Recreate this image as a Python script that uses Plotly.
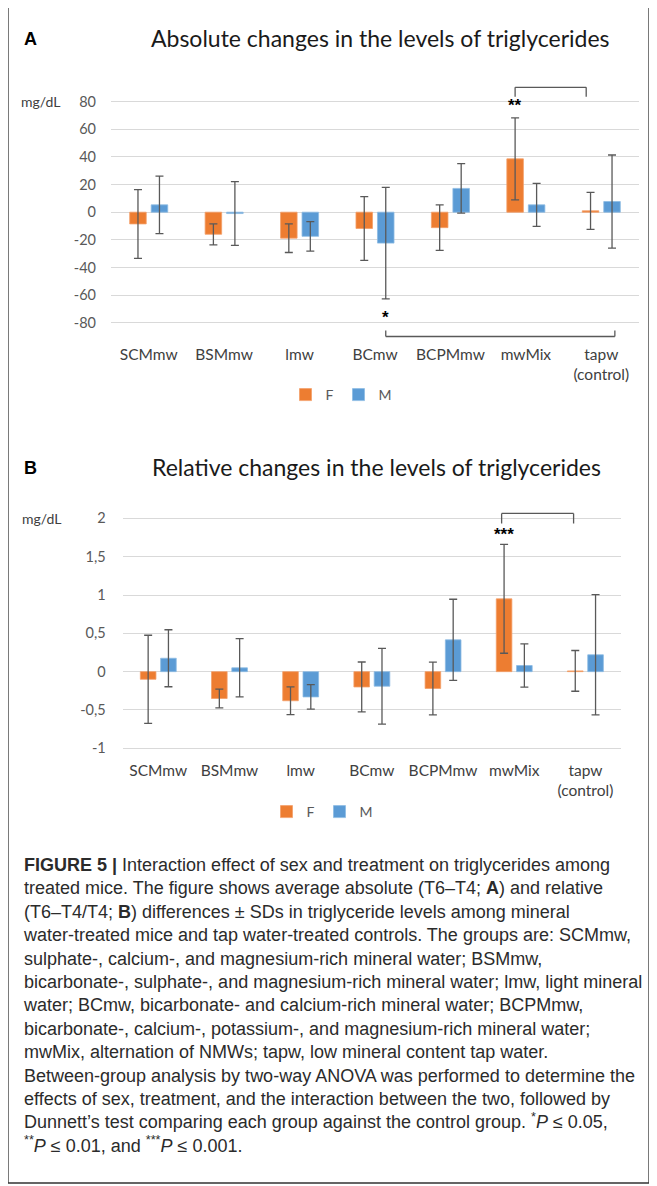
import plotly.graph_objects as go

# ---------------- data ----------------
categories = ["SCMmw", "BSMmw", "lmw", "BCmw", "BCPMmw", "mwMix", "tapw<br>(control)"]
series_names = ["F", "M"]

abs_f = [-8.5, -16.0, -18.8, -11.8, -11.2, 38.6, 1.0]
abs_f_sd = [24.9, 7.6, 10.4, 23.1, 16.5, 29.7, 13.4]
abs_m = [5.3, -1.0, -17.5, -22.4, 17.2, 5.3, 7.7]
abs_m_sd = [20.8, 23.1, 10.7, 40.4, 17.9, 15.6, 33.7]

rel_f = [-0.10, -0.35, -0.38, -0.20, -0.22, 0.95, 0.01]
rel_f_sd = [0.575, 0.122, 0.18, 0.326, 0.343, 0.71, 0.266]
rel_m = [0.175, 0.05, -0.33, -0.19, 0.415, 0.08, 0.22]
rel_m_sd = [0.372, 0.38, 0.16, 0.494, 0.53, 0.283, 0.785]

abs_tickvals = [-80, -60, -40, -20, 0, 20, 40, 60, 80]
abs_ticktext = ["-80", "-60", "-40", "-20", "0", "20", "40", "60", "80"]
rel_tickvals = [-1, -0.5, 0, 0.5, 1, 1.5, 2]
rel_ticktext = ["-1", "-0,5", "0", "0,5", "1", "1,5", "2"]

title_a = "Absolute changes in the levels of triglycerides"
title_b = "Relative changes in the levels of triglycerides"
unit_label = "mg/dL"

caption_lines = [
    "<b>FIGURE 5 |</b> Interaction effect of sex and treatment on triglycerides among",
    "treated mice. The figure shows average absolute (T6–T4; <b>A</b>) and relative",
    "(T6–T4/T4; <b>B</b>) differences ± SDs in triglyceride levels among mineral",
    "water-treated mice and tap water-treated controls. The groups are: SCMmw,",
    "sulphate-, calcium-, and magnesium-rich mineral water; BSMmw,",
    "bicarbonate-, sulphate-, and magnesium-rich mineral water; lmw, light mineral",
    "water; BCmw, bicarbonate- and calcium-rich mineral water; BCPMmw,",
    "bicarbonate-, calcium-, potassium-, and magnesium-rich mineral water;",
    "mwMix, alternation of NMWs; tapw, low mineral content tap water.",
    "Between-group analysis by two-way ANOVA was performed to determine the",
    "effects of sex, treatment, and the interaction between the two, followed by",
    "Dunnett’s test comparing each group against the control group. <sup>*</sup><i>P</i> ≤ 0.05,",
    "<sup>**</sup><i>P</i> ≤ 0.01, and <sup>***</sup><i>P</i> ≤ 0.001.",
]

# ---------------- style ----------------
W, H = 657, 1186
OFF = 8  # page body margin of the browser
ORANGE = "#ED7D31"
BLUE = "#5B9BD5"
ERR = "#595959"
GRID = "#D9D9D9"
CHART_FONT = "Lato"
CAP_FONT = "Liberation Sans"

def px_x(p):
    return (p - OFF) / W

def px_y(p):
    return 1 - (p - OFF) / H

fig = go.Figure()

def err(arr):
    return dict(type="data", array=arr, color=ERR, thickness=1.3, width=4)

fig.add_trace(go.Bar(name=series_names[0], x=categories, y=abs_f, error_y=err(abs_f_sd),
                     marker=dict(color=ORANGE, line=dict(color="#F4A06A", width=0.8)),
                     xaxis="x", yaxis="y", legend="legend"))
fig.add_trace(go.Bar(name=series_names[1], x=categories, y=abs_m, error_y=err(abs_m_sd),
                     marker=dict(color=BLUE, line=dict(color="#8DBBE3", width=0.8)),
                     xaxis="x", yaxis="y", legend="legend"))
fig.add_trace(go.Bar(name=series_names[0], x=categories, y=rel_f, error_y=err(rel_f_sd),
                     marker=dict(color=ORANGE, line=dict(color="#F4A06A", width=0.8)),
                     xaxis="x2", yaxis="y2", legend="legend2"))
fig.add_trace(go.Bar(name=series_names[1], x=categories, y=rel_m, error_y=err(rel_m_sd),
                     marker=dict(color=BLUE, line=dict(color="#8DBBE3", width=0.8)),
                     xaxis="x2", yaxis="y2", legend="legend2"))

tick_font_cat = dict(family=CHART_FONT, size=15.5, color="#404040")
tick_font_y = dict(family=CHART_FONT, size=14.5, color="#595959")

# plot-area pixel geometry (page pixels)
A_left, A_right, A_top, A_bot = 111, 639, 85.1, 343.4
B_left, B_right, B_top, B_bot = 122.7, 621, 509.2, 759.0

fig.update_layout(
    width=W, height=H, autosize=False,
    margin=dict(l=0, r=0, t=0, b=0),
    paper_bgcolor="white", plot_bgcolor="white",
    barmode="group", bargap=0.43, bargroupgap=0.23,
    xaxis=dict(domain=[px_x(A_left), px_x(A_right)], anchor="y", type="category",
               showgrid=False, showline=False, ticks="", zeroline=False,
               tickfont=tick_font_cat),
    yaxis=dict(domain=[px_y(A_bot), px_y(A_top)], anchor="x", range=[-95, 92],
               tickvals=abs_tickvals, ticktext=abs_ticktext, showgrid=True,
               gridcolor=GRID, gridwidth=1, zeroline=False, showline=False, ticks="",
               ticklabelstandoff=14, tickfont=tick_font_y),
    xaxis2=dict(domain=[px_x(B_left), px_x(B_right)], anchor="y2", type="category",
                showgrid=False, showline=False, ticks="", zeroline=False,
                tickfont=tick_font_cat),
    yaxis2=dict(domain=[px_y(B_bot), px_y(B_top)], anchor="x2", range=[-1.14, 2.12],
                tickvals=rel_tickvals, ticktext=rel_ticktext, showgrid=True,
                gridcolor=GRID, gridwidth=1, zeroline=False, showline=False, ticks="",
                ticklabelstandoff=16, tickfont=tick_font_y),
    legend=dict(orientation="h", x=px_x(341), y=px_y(395), xanchor="center", yanchor="middle",
                font=dict(family=CHART_FONT, size=14, color="#595959"),
                bgcolor="rgba(0,0,0,0)", itemwidth=30, traceorder="normal"),
    legend2=dict(orientation="h", x=px_x(322), y=px_y(812), xanchor="center", yanchor="middle",
                 font=dict(family=CHART_FONT, size=14, color="#595959"),
                 bgcolor="rgba(0,0,0,0)", itemwidth=30, traceorder="normal"),
    showlegend=True,
)

ann = []
# panel letters
ann.append(dict(text="<b>A</b>", x=px_x(22), y=px_y(39), xref="paper", yref="paper",
                xanchor="left", yanchor="middle", showarrow=False,
                font=dict(family="Liberation Sans", size=18, color="#000")))
ann.append(dict(text="<b>B</b>", x=px_x(22), y=px_y(468), xref="paper", yref="paper",
                xanchor="left", yanchor="middle", showarrow=False,
                font=dict(family="Liberation Sans", size=18, color="#000")))
# titles
ann.append(dict(text=title_a, x=px_x(380), y=px_y(38), xref="paper", yref="paper",
                xanchor="center", yanchor="middle", showarrow=False,
                font=dict(family=CHART_FONT, size=23, color="#1a1a1a")))
ann.append(dict(text=title_b, x=px_x(376), y=px_y(467), xref="paper", yref="paper",
                xanchor="center", yanchor="middle", showarrow=False,
                font=dict(family=CHART_FONT, size=23, color="#1a1a1a")))
# units
ann.append(dict(text=unit_label, x=px_x(19), y=px_y(102), xref="paper", yref="paper",
                xanchor="left", yanchor="middle", showarrow=False,
                font=dict(family=CHART_FONT, size=14, color="#404040")))
ann.append(dict(text=unit_label, x=px_x(20), y=px_y(518), xref="paper", yref="paper",
                xanchor="left", yanchor="middle", showarrow=False,
                font=dict(family=CHART_FONT, size=14, color="#404040")))
# significance stars
off = (1 - 0.43) / 4
STAR = dict(family="Liberation Sans", size=17, color="#000")
ann.append(dict(text="<b>**</b>", x=5 - off, y=77, xref="x", yref="y", showarrow=False,
                xanchor="center", yanchor="middle", font=STAR))
ann.append(dict(text="<b>*</b>", x=3 + off, y=-76, xref="x", yref="y", showarrow=False,
                xanchor="center", yanchor="middle", font=STAR))
ann.append(dict(text="<b>***</b>", x=5 - off, y=1.79, xref="x2", yref="y2", showarrow=False,
                xanchor="center", yanchor="middle", font=STAR))
# caption
ann.append(dict(text="<br>".join(caption_lines), x=px_x(21), y=px_y(853), xref="paper", yref="paper",
                xanchor="left", yanchor="top", align="left", showarrow=False,
                font=dict(family=CAP_FONT, size=18, color="#2b2b2b")))
fig.update_layout(annotations=ann)

shapes = []
BR = dict(color="#595959", width=1.3)
def bracket(xa, xb, yh, ye, xref, yref):
    shapes.append(dict(type="line", x0=xa, x1=xb, y0=yh, y1=yh, xref=xref, yref=yref, line=BR))
    shapes.append(dict(type="line", x0=xa, x1=xa, y0=yh, y1=ye, xref=xref, yref=yref, line=BR))
    shapes.append(dict(type="line", x0=xb, x1=xb, y0=yh, y1=ye, xref=xref, yref=yref, line=BR))

bracket(5 - off, 6 - 0.2, 90.4, 83.6, "x", "y")
bracket(3 + off, 6 + 0.18, -90, -85.6, "x", "y")
bracket(5 - 0.177, 6 - 0.166, 2.065, 1.935, "x2", "y2")
# outer frame
shapes.append(dict(type="rect", x0=px_x(8), x1=px_x(649), y0=px_y(1183), y1=px_y(7),
                   xref="paper", yref="paper", line=dict(color="#333333", width=1.3)))
fig.update_layout(shapes=shapes)

fig.write_html("out.html")
